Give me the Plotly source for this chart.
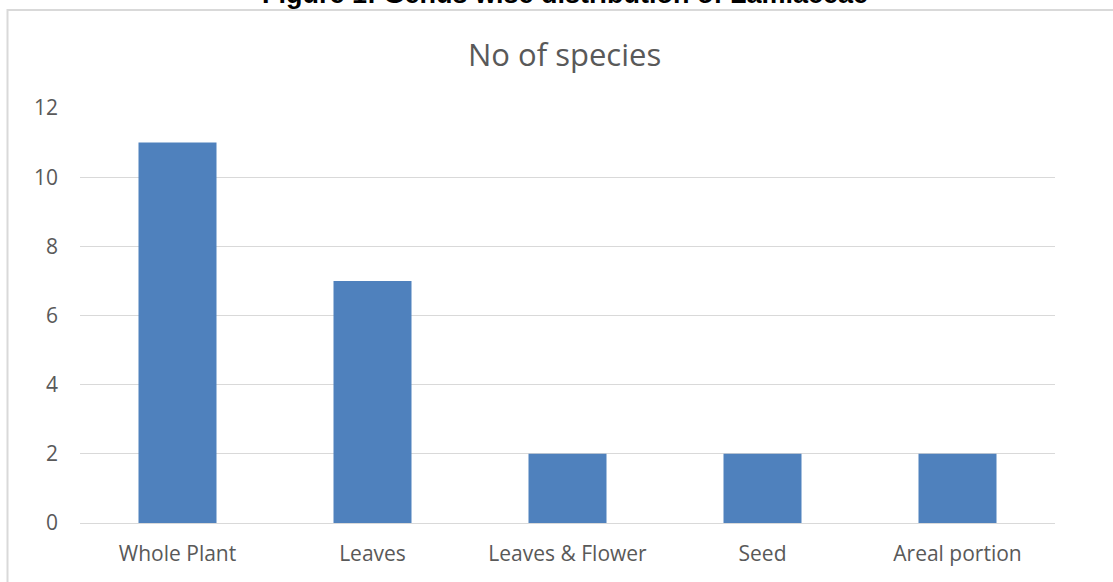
import plotly.graph_objects as go

# Plant part used vs. number of species
parts = ["Whole Plant", "Leaves", "Leaves & Flower", "Seed", "Areal portion"]
species_count = [11, 7, 2, 2, 2]
y_ticks = [0, 2, 4, 6, 8, 10, 12]

W, H = 1113, 582
L, R, T, B = 80, 58, 108, 59
pw, ph = W - L - R, H - T - B


def px_x(p):
    return (p - L) / pw


def px_y(p):
    return (H - B - p) / ph


fig = go.Figure(
    go.Bar(
        x=parts,
        y=species_count,
        marker=dict(color="#4F81BD", line=dict(width=0)),
        hoverinfo="x+y",
    )
)

grey = "#595959"
fig.update_layout(
    width=W,
    height=H,
    margin=dict(l=L, r=R, t=T, b=B, pad=0),
    paper_bgcolor="white",
    plot_bgcolor="white",
    bargap=0.6,
    showlegend=False,
    font=dict(family="Open Sans", color=grey),
    xaxis=dict(
        showgrid=False,
        showline=False,
        zeroline=False,
        ticks="",
        tickfont=dict(size=21, color=grey),
        ticklabelstandoff=16,
    ),
    yaxis=dict(
        range=[0, 12],
        tickvals=y_ticks,
        showgrid=True,
        gridcolor="#D9D9D9",
        gridwidth=1,
        zeroline=True,
        zerolinecolor="#D9D9D9",
        zerolinewidth=1,
        showline=False,
        ticks="",
        tickfont=dict(size=21, color=grey),
        ticklabelstandoff=21,
    ),
    shapes=[
        dict(
            type="rect",
            xref="paper",
            yref="paper",
            x0=px_x(7.5),
            x1=px_x(W + 20),
            y0=px_y(H + 20),
            y1=px_y(10),
            line=dict(color="#D9D9D9", width=2),
            fillcolor="rgba(0,0,0,0)",
            layer="below",
        )
    ],
    annotations=[
        dict(
            text="No of species",
            xref="paper",
            yref="paper",
            x=px_x(564),
            y=px_y(54),
            xanchor="center",
            yanchor="middle",
            showarrow=False,
            font=dict(family="Open Sans", size=31, color=grey),
        ),
        dict(
            text="<b>Figure 1: Genus wise distribution of Lamiaceae</b>",
            xref="paper",
            yref="paper",
            x=px_x(565),
            y=px_y(-6),
            xanchor="center",
            yanchor="middle",
            showarrow=False,
            font=dict(family="Liberation Sans, Arial", size=27, color="black"),
        ),
    ],
)

fig.write_html("out.html")
